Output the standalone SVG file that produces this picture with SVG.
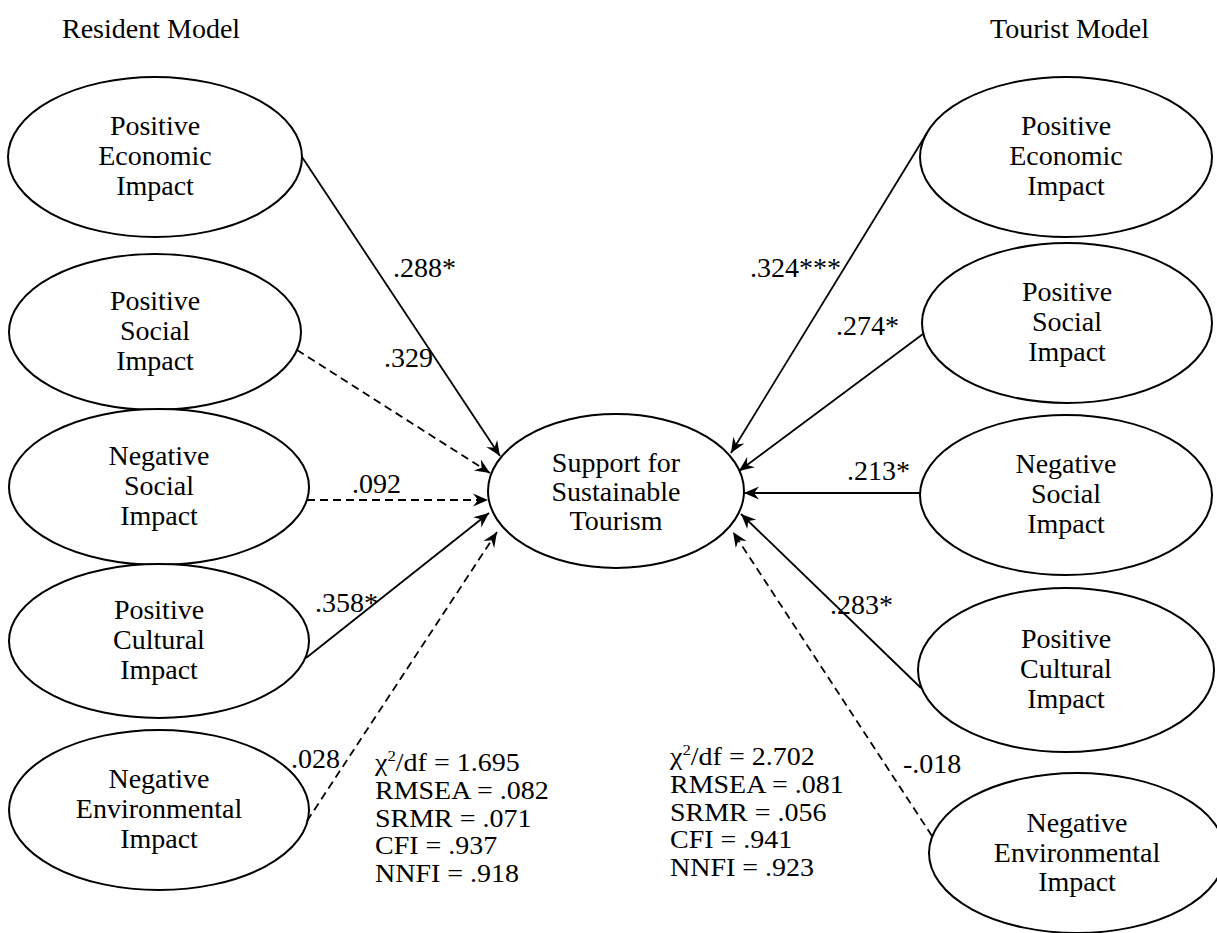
<svg xmlns="http://www.w3.org/2000/svg" width="1217" height="933" viewBox="0 0 1217 933">
<style>
text{font-family:"Liberation Serif","Times New Roman",serif;font-size:28px;fill:#000}
.n text{text-anchor:middle}
.fit text{font-size:25px}
ellipse{fill:#fff;stroke:#000;stroke-width:2}
.c line{stroke:#000;stroke-width:1.8;marker-end:url(#ah)}
.c line.d{stroke-dasharray:8,5}
</style>
<defs>
<marker id="ah" markerUnits="userSpaceOnUse" markerWidth="20" markerHeight="16" viewBox="-16 -8 18 16" refX="0" refY="0" orient="auto">
<path d="M0,0 L-15,-6.5 L-10,0 L-15,6.5 Z" fill="#000"/>
</marker>
</defs>
<rect width="1217" height="933" fill="#fff"/>
<text x="62" y="38" font-size="29">Resident Model</text>
<text x="990" y="38" font-size="29">Tourist Model</text>

<g id="L1" class="n"><ellipse cx="155" cy="157" rx="147" ry="80"/><text x="155" y="135">Positive</text><text x="155" y="165">Economic</text><text x="155" y="195">Impact</text></g>
<g id="L2" class="n"><ellipse cx="155" cy="332" rx="146" ry="78"/><text x="155" y="310">Positive</text><text x="155" y="340">Social</text><text x="155" y="370">Impact</text></g>
<g id="L3" class="n"><ellipse cx="159" cy="487" rx="150" ry="78"/><text x="159" y="465">Negative</text><text x="159" y="495">Social</text><text x="159" y="525">Impact</text></g>
<g id="L4" class="n"><ellipse cx="159" cy="641" rx="150" ry="77"/><text x="159" y="619">Positive</text><text x="159" y="649">Cultural</text><text x="159" y="679">Impact</text></g>
<g id="L5" class="n"><ellipse cx="159" cy="810" rx="150" ry="80"/><text x="159" y="788">Negative</text><text x="159" y="818">Environmental</text><text x="159" y="848">Impact</text></g>

<g id="C" class="n"><ellipse cx="616" cy="491" rx="128" ry="77"/><text x="616" y="472">Support for</text><text x="616" y="501">Sustainable</text><text x="616" y="530">Tourism</text></g>

<g id="R1" class="n"><ellipse cx="1066" cy="157" rx="146" ry="80"/><text x="1066" y="135">Positive</text><text x="1066" y="165">Economic</text><text x="1066" y="195">Impact</text></g>
<g id="R2" class="n"><ellipse cx="1067" cy="323" rx="145" ry="80"/><text x="1067" y="301">Positive</text><text x="1067" y="331">Social</text><text x="1067" y="361">Impact</text></g>
<g id="R3" class="n"><ellipse cx="1066" cy="495" rx="146" ry="80"/><text x="1066" y="473">Negative</text><text x="1066" y="503">Social</text><text x="1066" y="533">Impact</text></g>
<g id="R4" class="n"><ellipse cx="1066" cy="670" rx="148" ry="82"/><text x="1066" y="648">Positive</text><text x="1066" y="678">Cultural</text><text x="1066" y="708">Impact</text></g>
<g id="R5" class="n"><ellipse cx="1077" cy="853" rx="148" ry="80"/><text x="1077" y="832">Negative</text><text x="1077" y="862">Environmental</text><text x="1077" y="891">Impact</text></g>

<g id="connectors" class="c">
<line x1="302" y1="157" x2="500" y2="456"/>
<line class="d" x1="297" y1="350" x2="490" y2="473"/>
<line class="d" x1="307" y1="500" x2="488" y2="500"/>
<line x1="306" y1="658" x2="489" y2="513"/>
<line class="d" x1="307" y1="821" x2="497" y2="532"/>
<line x1="927" y1="133" x2="731" y2="453"/>
<line x1="923" y1="334" x2="739" y2="471"/>
<line x1="920" y1="493" x2="744" y2="493"/>
<line x1="921" y1="688" x2="741" y2="514"/>
<line class="d" x1="932" y1="836" x2="733" y2="532"/>
</g>

<g id="labels">
<text x="393" y="277">.288*</text>
<text x="384" y="367">.329</text>
<text x="352" y="493">.092</text>
<text x="315" y="612">.358*</text>
<text x="291" y="768">.028</text>
<text x="750" y="277">.324***</text>
<text x="836" y="335">.274*</text>
<text x="847" y="480">.213*</text>
<text x="830" y="614">.283*</text>
<text x="903" y="773">-.018</text>
</g>

<g id="fit-resident" class="fit" transform="translate(375,0) scale(1.12,1)">
<text x="0" y="771">χ<tspan font-size="15" dy="-10">2</tspan><tspan dy="10">/df = 1.695</tspan></text>
<text x="0" y="798.8">RMSEA = .082</text>
<text x="0" y="826.6">SRMR = .071</text>
<text x="0" y="854.4">CFI = .937</text>
<text x="0" y="882.2">NNFI = .918</text>
</g>
<g id="fit-tourist" class="fit" transform="translate(670,0) scale(1.12,1)">
<text x="0" y="765">χ<tspan font-size="15" dy="-10">2</tspan><tspan dy="10">/df = 2.702</tspan></text>
<text x="0" y="792.8">RMSEA = .081</text>
<text x="0" y="820.6">SRMR = .056</text>
<text x="0" y="848.4">CFI = .941</text>
<text x="0" y="876.2">NNFI = .923</text>
</g>
</svg>
